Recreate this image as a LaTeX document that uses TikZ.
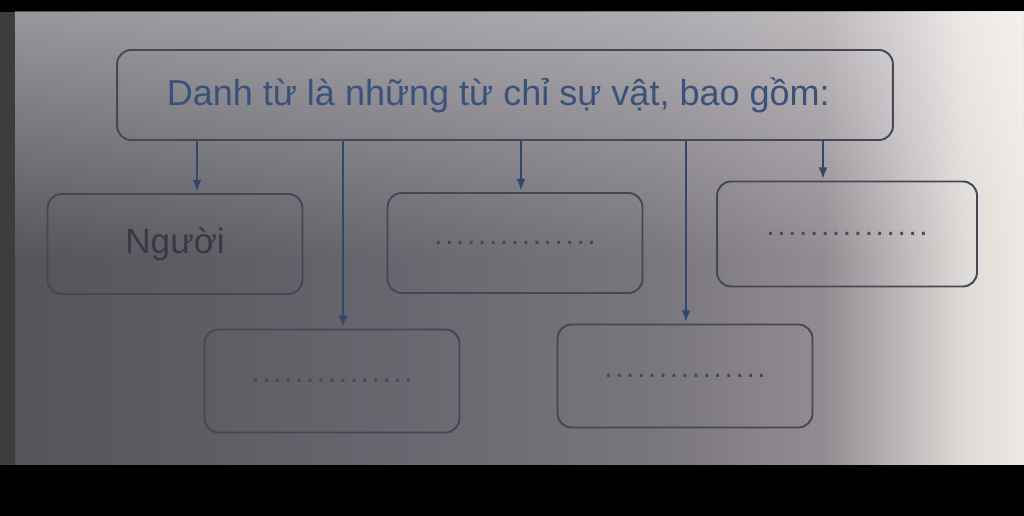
\documentclass[tikz,border=0pt]{standalone}
\usepackage{fontspec}
\setmainfont{Liberation Sans}
\usepackage{tikz}
\usetikzlibrary{arrows,arrows.meta,calc,fadings,positioning}
\definecolor{darkblue}{RGB}{58, 82, 122}
\definecolor{boxgray}{RGB}{68, 72, 86}
\definecolor{arrowblue}{RGB}{52, 70, 108}
\definecolor{textgray}{RGB}{55, 58, 70}
\definecolor{dotgray}{RGB}{70, 72, 82}
\definecolor{pageA}{RGB}{84, 84, 90}
\definecolor{pageB}{RGB}{104, 102, 110}
\definecolor{pageC}{RGB}{122, 118, 126}
\definecolor{pageD}{RGB}{146, 140, 146}
\definecolor{pageE}{RGB}{190, 184, 186}
\definecolor{pageF}{RGB}{222, 218, 214}
\definecolor{pageG}{RGB}{236, 232, 228}
\pgfdeclarehorizontalshading{page}{100bp}{color(0bp)=(pageA); color(25bp)=(pageA); color(44bp)=(pageB); color(57bp)=(pageC); color(65bp)=(pageD); color(69bp)=(pageE); color(72bp)=(pageF); color(75bp)=(pageG); color(100bp)=(pageG)}
\newcommand{\dotrow}{\fontsize{17}{17}\selectfont\color{dotgray}.\kern1.5pt.\kern1.5pt.\kern1.5pt.\kern1.5pt.\kern1.5pt.\kern1.5pt.\kern1.5pt.\kern1.5pt.\kern1.5pt.\kern1.5pt.\kern1.5pt.\kern1.5pt.\kern1.5pt.\kern1.5pt.}

\begin{document}
\begin{tikzpicture}[x=0.02cm,y=-0.02cm,shorten >=1pt,align=center,
   box/.style={draw=boxgray,line width=1.1pt,rounded corners=8pt,minimum width=5.1cm,minimum height=2cm,inner sep=0pt},
   arr/.style={-{Latex[length=6.5pt,width=5pt]},draw=arrowblue,line width=0.9pt}]
   \useasboundingbox (0,0) rectangle (1024,516);
   \fill[black] (0,0) rectangle (1024,516);
   \fill[black!76] (0,12) rectangle (15,465);
   \shade[shading=page] (15,12) rectangle (1024,465);
   \fill[white,fill opacity=0.4,path fading=south] (15,12) rectangle (1024,260);
   \node (TITLE) at (505,95)[box,minimum width=15.52cm,minimum height=1.8cm] {\color{darkblue}
   \begingroup
    \fontsize{20.5}{20.5}\selectfont
    Danh từ là những từ chỉ sự vật, bao gồm:
   \endgroup};
   \node (NGUOI) at (175,244)[box] {\color{textgray}\fontsize{20}{20}\selectfont Người};
   \node (B2) at (515,243)[box] {\dotrow};
   \node (B3) at (847,234)[box,minimum width=5.2cm,minimum height=2.1cm] {\dotrow};
   \node (B4) at (332,381)[box,minimum height=2.06cm] {\dotrow};
   \node (B5) at (685,376)[box,minimum height=2.06cm] {\dotrow};
   \foreach \b/\dx in {NGUOI/22,B2/6,B3/-24,B4/11,B5/1} {
    \coordinate (T) at ($(\b.north)+(\dx,0)$);
    \draw[arr] (T |- TITLE.south) -- (T);
   }
\end{tikzpicture}
\end{document}
